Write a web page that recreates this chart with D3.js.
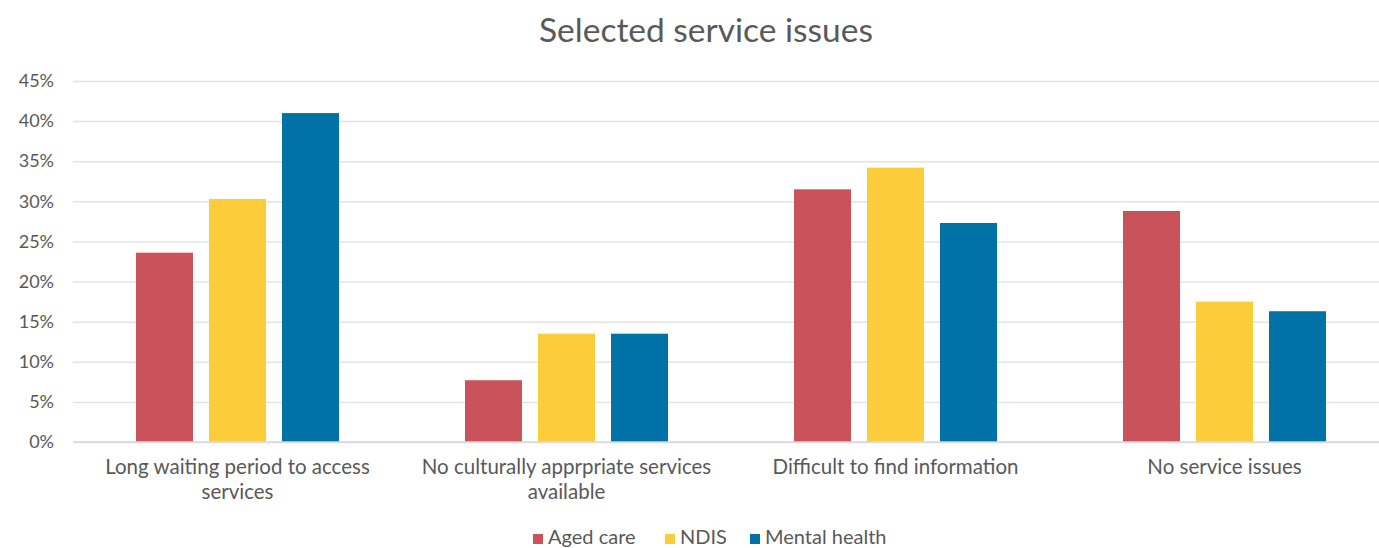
<!DOCTYPE html>
<html>
<head>
<meta charset="utf-8">
<script src="https://cdn.jsdelivr.net/npm/d3@7"></script>
<style>
  html, body { margin: 0; padding: 0; background: #fff; }
  svg { display: block; font-family: Lato, "Noto Sans", sans-serif; }
</style>
</head>
<body>
<svg id="chart" width="1379" height="548"></svg>
<script>
// Survey categories (two-line labels split with "\n")
const categories = [
  "Long waiting period to access\nservices",
  "No culturally apprpriate services\navailable",
  "Difficult to find information",
  "No service issues"
];
const seriesNames = ["Aged care", "NDIS", "Mental health"];
const seriesColors = ["#C9525B", "#FDCC3B", "#0072A5"];

// Share of respondents (%) for each service type
const agedCare = [23.6, 7.7, 31.5, 28.8];
const ndis = [30.3, 13.5, 34.2, 17.5];
const mentalHealth = [41.0, 13.5, 27.3, 16.3];

const yTicks = [0, 5, 10, 15, 20, 25, 30, 35, 40, 45];

const seriesValues = [agedCare, ndis, mentalHealth];

const svg = d3.select("#chart");
const W = 1379, H = 548;
const margin = { left: 73, right: -10, top: 81, bottom: 106 };

const x0 = d3.scaleBand()
  .domain(categories)
  .range([margin.left, W - margin.right])
  .paddingInner(0)
  .paddingOuter(0);

const x1 = d3.scaleBand()
  .domain(seriesNames)
  .range([0, x0.bandwidth()])
  .paddingInner(0.219)
  .paddingOuter(0.863);

const y = d3.scaleLinear()
  .domain([0, 45])
  .range([H - margin.bottom, margin.top]);

// Title
svg.append("text")
  .attr("x", 706)
  .attr("y", 42)
  .attr("text-anchor", "middle")
  .attr("fill", "#595959")
  .style("font-size", "33.5px")
  .text("Selected service issues");

// Gridlines and percentage ticks
const yAxis = d3.axisLeft(y)
  .tickValues(yTicks)
  .tickSize(-(W - margin.right - margin.left))
  .tickPadding(19)
  .tickFormat(d => d + "%");

const gy = svg.append("g")
  .attr("transform", `translate(${margin.left},0)`)
  .call(yAxis);
gy.select(".domain").remove();
gy.selectAll(".tick line")
  .attr("stroke", "#e3e3e3")
  .attr("stroke-width", 1.5);
gy.selectAll(".tick text")
  .attr("fill", "#595959")
  .style("font-size", "18px")
  .style("font-family", "Lato, 'Noto Sans', sans-serif");

// Bars
const groups = svg.append("g").selectAll("g")
  .data(categories)
  .join("g")
  .attr("transform", d => `translate(${x0(d)},0)`);

groups.selectAll("rect")
  .data((d, i) => seriesNames.map((s, j) => ({ s, j, v: seriesValues[j][i] })))
  .join("rect")
  .attr("x", d => x1(d.s))
  .attr("width", x1.bandwidth())
  .attr("y", d => y(d.v))
  .attr("height", d => y(0) - y(d.v))
  .attr("fill", d => seriesColors[d.j]);

// Baseline
svg.append("line")
  .attr("x1", margin.left).attr("x2", W)
  .attr("y1", y(0)).attr("y2", y(0))
  .attr("stroke", "#d9d9d9").attr("stroke-width", 1.5);

// Category labels
categories.forEach(c => {
  const lines = c.split("\n");
  const cx = x0(c) + x0.bandwidth() / 2;
  const t = svg.append("text")
    .attr("x", cx)
    .attr("y", 474)
    .attr("text-anchor", "middle")
    .attr("fill", "#595959")
    .style("font-size", "20.5px");
  lines.forEach((ln, k) => {
    t.append("tspan")
      .attr("x", cx)
      .attr("dy", k === 0 ? 0 : 25)
      .text(ln);
  });
});

// Legend
const legendItems = [
  { name: "Aged care", sx: 533 },
  { name: "NDIS", sx: 665 },
  { name: "Mental health", sx: 750 }
];
const lg = svg.append("g");
legendItems.forEach((it, i) => {
  lg.append("rect")
    .attr("x", it.sx).attr("y", 534)
    .attr("width", 10).attr("height", 10)
    .attr("fill", seriesColors[i]);
  lg.append("text")
    .attr("x", it.sx + 15).attr("y", 544)
    .attr("fill", "#595959")
    .style("font-size", "20px")
    .text(it.name);
});
</script>
</body>
</html>
